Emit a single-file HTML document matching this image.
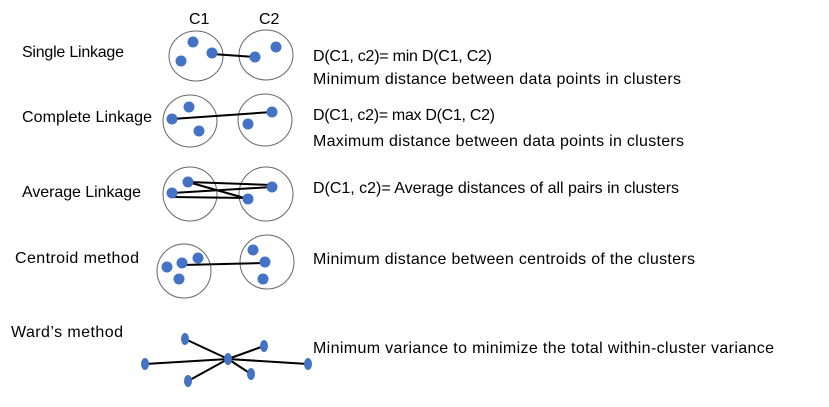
<!DOCTYPE html>
<html><head><meta charset="utf-8"><style>
html,body{margin:0;padding:0;background:#fff}
svg text{font-family:"Liberation Sans",sans-serif;font-size:16px;fill:#000}
</style></head><body>
<svg width="829" height="402" viewBox="0 0 829 402">
<g>
<text x="22" y="57" textLength="102">Single Linkage</text>
<text x="22" y="122" textLength="130">Complete Linkage</text>
<text x="22" y="197" textLength="119">Average Linkage</text>
<text x="15" y="263" textLength="124">Centroid method</text>
<text x="11" y="337" textLength="112">Ward’s method</text>
</g>
<g>
<text x="313" y="61" textLength="179">D(C1, c2)= min D(C1, C2)</text>
<text x="313" y="84" textLength="368">Minimum distance between data points in clusters</text>
<text x="313" y="120" textLength="182">D(C1, c2)= max D(C1, C2)</text>
<text x="313" y="146" textLength="371">Maximum distance between data points in clusters</text>
<text x="313" y="193" textLength="366">D(C1, c2)= Average distances of all pairs in clusters</text>
<text x="313" y="264" textLength="382">Minimum distance between centroids of the clusters</text>
<text x="313" y="353" textLength="461">Minimum variance to minimize the total within-cluster variance</text>
</g>
<text x="189" y="24">C1</text>
<text x="259" y="24">C2</text>
<g fill="none" stroke="#666" stroke-width="1">
<ellipse cx="196" cy="56" rx="27" ry="25"/>
<ellipse cx="266" cy="55" rx="27" ry="25"/>
<ellipse cx="190" cy="121" rx="27" ry="26"/>
<ellipse cx="265" cy="120" rx="27" ry="26"/>
<ellipse cx="190" cy="194" rx="27" ry="27"/>
<ellipse cx="266" cy="194" rx="27" ry="27"/>
<ellipse cx="184" cy="271" rx="27" ry="27"/>
<ellipse cx="267" cy="262" rx="27" ry="27"/>
</g>
<g stroke="#000" stroke-width="2">
<line x1="212" y1="54" x2="255" y2="57"/>
<line x1="172" y1="119" x2="272" y2="112"/>
<line x1="188" y1="182" x2="272" y2="185"/>
<line x1="188" y1="182" x2="248" y2="199"/>
<line x1="172" y1="193" x2="272" y2="187"/>
<line x1="172" y1="197" x2="248" y2="198"/>
<line x1="182" y1="265" x2="265" y2="263"/>
<line x1="228" y1="359" x2="185" y2="339"/>
<line x1="228" y1="359" x2="145" y2="364"/>
<line x1="228" y1="359" x2="188" y2="381"/>
<line x1="228" y1="359" x2="264" y2="346"/>
<line x1="228" y1="359" x2="251" y2="374"/>
<line x1="228" y1="359" x2="308" y2="364"/>
</g>
<g fill="#4472c4">
<circle cx="193" cy="42" r="5.5"/><circle cx="181" cy="61" r="5.5"/><circle cx="212" cy="53" r="5.5"/><circle cx="255" cy="57" r="5.5"/><circle cx="276" cy="47" r="5.5"/>
<circle cx="189" cy="107" r="5.5"/><circle cx="172" cy="119" r="5.5"/><circle cx="199" cy="131" r="5.5"/><circle cx="272" cy="112" r="5.5"/><circle cx="248" cy="124" r="5.5"/>
<circle cx="188" cy="182" r="5.5"/><circle cx="172" cy="193" r="5.5"/><circle cx="272" cy="187" r="5.5"/><circle cx="248" cy="199" r="5.5"/>
<circle cx="167" cy="267" r="5.5"/><circle cx="182" cy="263" r="5.5"/><circle cx="198" cy="258" r="5.5"/><circle cx="179" cy="279" r="5.5"/><circle cx="253" cy="250" r="5.5"/><circle cx="265" cy="262" r="5.5"/><circle cx="263" cy="279" r="5.5"/>
<ellipse cx="228" cy="359" rx="4" ry="6"/><ellipse cx="185" cy="339" rx="4" ry="6"/><ellipse cx="145" cy="364" rx="4" ry="6"/><ellipse cx="188" cy="381" rx="4" ry="6"/><ellipse cx="264" cy="346" rx="4" ry="6"/><ellipse cx="251" cy="374" rx="4" ry="6"/><ellipse cx="308" cy="364" rx="4" ry="6"/>
</g>
</svg>
</body></html>
